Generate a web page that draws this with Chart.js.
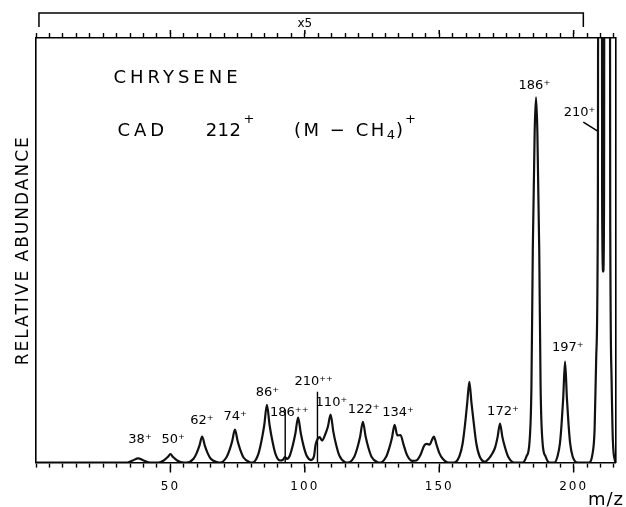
<!DOCTYPE html>
<html>
<head>
<meta charset="utf-8">
<script src="https://cdn.jsdelivr.net/npm/chart.js@4.4.1/dist/chart.umd.min.js"></script>
<style>
  html, body { margin: 0; padding: 0; background: #fff; }
  #wrap { width: 626px; height: 507px; }
</style>
</head>
<body>
<div id="wrap"><canvas id="cadSpectrum"></canvas></div>
<script>
// CAD spectrum of chrysene 212+
// m/z along the trace and relative abundance (100 = top of the frame)
const traceMz = [
  0, 34,
  36, 38, 40, 42.5,
  45.5, 47.5, 49, 50, 51, 52.5, 55,
  56, 58.6, 59.8, 60.8, 61.8, 62.8, 63.8, 65, 67.5,
  68.5, 70.8, 72, 73, 74, 75, 76, 77.2, 79.5,
  80.5, 82.7, 83.9, 84.9, 85.9, 86.9, 87.9, 89.1, 90.8,
  91.8, 92.6, 93.4,
  94.4, 95.5, 96.5, 97.5, 98.5, 99.5, 100.7, 102.3,
  103.4, 104, 104.8, 105.5, 106.4, 107.5, 108.6, 109.6, 110.6, 111.6, 112.8, 115,
  116, 118.4, 119.6, 120.6, 121.6, 122.6, 123.6, 124.8, 127,
  128, 130.2, 131.4, 132.4, 133.4, 134.4, 135.6, 136.7, 138, 140,
  141.5, 143, 144.4, 145.4, 146.4, 147.2, 148, 149, 150, 151.3, 153.5,
  155.5, 157.5, 158.7, 159.6, 160.4, 161.2, 162, 162.9, 163.8, 165, 167,
  168.5, 169.8, 170.8, 171.7, 172.6, 173.5, 174.5, 175.7, 178,
  181, 182.5, 183.6, 184.3, 184.8, 185.5, 186, 186.5, 187.2, 187.7, 188.4, 189.5, 191,
  192.8, 194, 194.9, 195.5, 196.1, 196.8, 197.5, 198.1, 198.7, 199.6, 201.5,
  205.5, 207, 207.8, 208.4, 209, 209.4, 210.3, 210.6, 211, 211.3, 211.6, 213.2, 213.6, 214.1, 214.6, 215.5
];
const traceAbund = [
  0, 0,
  0.5, 1.0, 0.5, 0,
  0, 0.5, 1.3, 2.0, 1.3, 0.5, 0,
  0, 0.9, 2.3, 4.0, 6.1, 4.0, 2.3, 0.9, 0.1,
  0, 1.2, 3.0, 5.1, 7.8, 5.1, 3.0, 1.2, 0.1,
  0, 2.0, 5.2, 8.8, 13.6, 8.8, 5.2, 2.0, 0.5,
  0.6, 1.3, 0.9,
  1.6, 4.0, 6.9, 10.6, 6.9, 4.0, 1.6, 0.6,
  1.5, 4.2, 5.6, 6.0, 5.2, 6.5, 8.5, 11.3, 7.3, 4.3, 1.7, 0.1,
  0, 1.4, 3.6, 6.2, 9.6, 6.2, 3.6, 1.4, 0.1,
  0, 1.3, 3.4, 5.8, 8.9, 6.4, 6.5, 4.3, 1.8, 0.4,
  0.5, 1.8, 4.0, 4.4, 4.2, 5.2, 6.1, 4.2, 2.3, 0.9, 0,
  0, 1.5, 4.5, 9, 14, 19, 14, 9, 4.5, 1.5, 0.2,
  1.0, 2.2, 3.6, 6.0, 9.2, 6.0, 3.5, 1.3, 0,
  0, 1.5, 5, 18, 50, 78, 86, 78, 50, 18, 5, 1.5, 0,
  0, 1.5, 4.5, 9, 15, 23.8, 15, 9, 4.5, 1.5, 0,
  0, 2, 8, 25, 60, 300, 300, 60, 45, 60, 300, 300, 60, 20, 5, 0
];

// metastable (doubly charged) marker lines: 186++ and 210++
const markerMz = [92.7, 104.7];
const markerTop = [12.5, 16.7];

// peak labels
const peakText = ['38⁺', '50⁺', '62⁺', '74⁺', '86⁺', '186⁺⁺', '210⁺⁺', '110⁺', '122⁺', '134⁺', '172⁺', '186⁺', '197⁺', '210⁺'];
const peakLabelMz = [38.7, 51, 61.7, 74.1, 86.1, 94.2, 103.3, 109.9, 121.9, 134.7, 173.7, 185.4, 197.8, 202.2];
const peakLabelAbund = [5.4, 5.4, 9.9, 10.8, 16.5, 11.8, 19.1, 14.1, 12.5, 11.8, 12.0, 88.9, 27.1, 82.4];

const majorTicks = [50, 100, 150, 200];
const expandedRange = [1.1, 203.6]; // span of the x5 bracket

Chart.defaults.font.family = "'DejaVu Sans', sans-serif";
Chart.defaults.color = '#000';

function textAt(ctx, str, x, y, size, spacing, align) {
  ctx.font = size + "px 'DejaVu Sans', sans-serif";
  ctx.letterSpacing = spacing + 'px';
  ctx.textAlign = align || 'left';
  ctx.textBaseline = 'middle';
  ctx.fillText(str, x, y);
  return ctx.measureText(str).width;
}

// text, bracket and longer ticks drawn from the chart's own scales
const spectrumNotes = {
  id: 'spectrumNotes',
  beforeDraw(chart) {
    chart.ctx.letterSpacing = '2px';
  },
  beforeDatasetsDraw(chart) {
    chart.ctx.letterSpacing = '0px';
  },
  afterDraw(chart) {
    const { ctx, chartArea } = chart;
    const xs = chart.scales.x;
    const ys = chart.scales.y;
    ctx.save();
    ctx.fillStyle = '#000';
    ctx.strokeStyle = '#000';
    ctx.lineWidth = 1.5;

    // longer ticks at 50, 100, 150, 200
    majorTicks.forEach(v => {
      const px = xs.getPixelForValue(v);
      ctx.beginPath();
      ctx.moveTo(px, chartArea.bottom + 4);
      ctx.lineTo(px, chartArea.bottom + 10);
      ctx.moveTo(px, chartArea.top - 4);
      ctx.lineTo(px, chartArea.top - 8);
      ctx.stroke();
    });

    // x5 bracket
    const bx0 = xs.getPixelForValue(expandedRange[0]);
    const bx1 = xs.getPixelForValue(expandedRange[1]);
    ctx.beginPath();
    ctx.moveTo(bx0, chartArea.top - 11);
    ctx.lineTo(bx0, chartArea.top - 25);
    ctx.lineTo(bx1, chartArea.top - 25);
    ctx.lineTo(bx1, chartArea.top - 11);
    ctx.stroke();
    textAt(ctx, 'x5', xs.getPixelForValue(100), chartArea.top - 14, 12, 0, 'center');

    // headings
    textAt(ctx, 'CHRYSENE', xs.getPixelForValue(28.8), ys.getPixelForValue(90.6), 18, 4);
    const hy = ys.getPixelForValue(78.1);
    textAt(ctx, 'CAD', xs.getPixelForValue(30.3), hy, 18, 4);
    let hx = xs.getPixelForValue(63.1);
    hx += textAt(ctx, '212', hx, hy, 18, 0.5);
    textAt(ctx, '+', hx + 2, hy - 11, 13, 0);
    hx = xs.getPixelForValue(96);
    hx += textAt(ctx, '(M − CH', hx, hy, 18, 2.5);
    hx += textAt(ctx, '4', hx, hy + 5, 13, 0);
    hx += textAt(ctx, ')', hx + 1, hy, 18, 0);
    textAt(ctx, '+', hx + 3, hy - 11, 13, 0);

    // peak labels
    peakText.forEach((t, i) => {
      textAt(ctx, t, xs.getPixelForValue(peakLabelMz[i]), ys.getPixelForValue(peakLabelAbund[i]), 13, 0, 'center');
    });
    // leader from the 210+ label to its peak
    ctx.lineWidth = 1.5;
    ctx.beginPath();
    ctx.moveTo(xs.getPixelForValue(203.6), ys.getPixelForValue(80.2));
    ctx.lineTo(xs.getPixelForValue(208.8), ys.getPixelForValue(78.1));
    ctx.stroke();

    // axis unit
    textAt(ctx, 'm/z', 606, 500, 18, 1, 'center');
    ctx.restore();
  }
};

const traceData = traceMz.map((m, i) => ({ x: m, y: traceAbund[i] }));
const markerSets = markerMz.map((m, i) => ({
  data: [{ x: m, y: 0 }, { x: m, y: markerTop[i] }],
  borderColor: '#000',
  borderWidth: 1.4,
  pointRadius: 0,
  tension: 0
}));

new Chart(document.getElementById('cadSpectrum'), {
  type: 'line',
  data: {
    datasets: [
      {
        data: traceData,
        borderColor: '#111',
        borderWidth: 2.2,
        pointRadius: 0,
        cubicInterpolationMode: 'monotone',
        fill: false
      },
      ...markerSets
    ]
  },
  options: {
    responsive: true,
    maintainAspectRatio: false,
    animation: false,
    devicePixelRatio: 1,
    layout: { padding: { top: 33, left: 11.6, right: 1.5, bottom: 1 } },
    plugins: { legend: { display: false }, tooltip: { enabled: false } },
    scales: {
      x: {
        type: 'linear',
        position: 'bottom',
        min: 0,
        max: 215.5,
        ticks: {
          stepSize: 5,
          autoSkip: false,
          includeBounds: false,
          maxRotation: 0,
          padding: 12,
          font: { size: 12 },
          callback: v => (v % 50 === 0 && v > 0) ? String(v) : ''
        },
        grid: { drawOnChartArea: false, tickLength: 5, tickColor: '#000', tickWidth: 1.4 },
        border: { color: '#000', width: 1.6 }
      },
      x2: {
        type: 'linear',
        position: 'top',
        min: 0,
        max: 215.5,
        ticks: { display: false, stepSize: 5, autoSkip: false, includeBounds: false },
        grid: { drawOnChartArea: false, tickLength: 5, tickColor: '#000', tickWidth: 1.4 },
        border: { color: '#000', width: 1.6 }
      },
      y: {
        min: 0,
        max: 100,
        ticks: { display: false },
        grid: { display: false, drawTicks: false },
        border: { color: '#000', width: 1.6 },
        title: {
          display: true,
          text: 'RELATIVE ABUNDANCE',
          font: { size: 17 },
          padding: { top: 2, bottom: 2 }
        }
      },
      y2: {
        position: 'right',
        min: 0,
        max: 100,
        ticks: { display: false },
        grid: { display: false, drawTicks: false },
        border: { color: '#000', width: 1.6 }
      }
    }
  },
  plugins: [spectrumNotes]
});
</script>
</body>
</html>
